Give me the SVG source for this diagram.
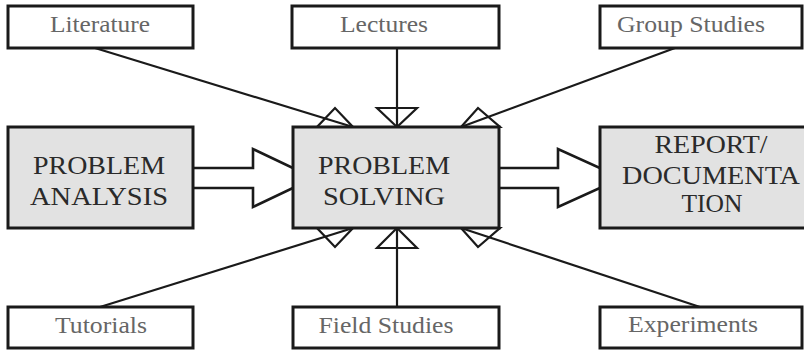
<svg xmlns="http://www.w3.org/2000/svg" width="804" height="354" viewBox="0 0 804 354">
<style>
.box{fill:#fff;stroke:#1a1a1a;stroke-width:3}
.main{fill:#e2e2e2;stroke:#1a1a1a;stroke-width:3}
.ln{stroke:#1a1a1a;stroke-width:2.2;fill:none}
.head{fill:none;stroke:#1a1a1a;stroke-width:2.2;stroke-linejoin:miter}
.blk{fill:#fff;stroke:#1a1a1a;stroke-width:2.6;stroke-linejoin:miter}
text{font-family:'Liberation Serif',serif}
.sm{font-size:23px;fill:#666;text-anchor:middle}
.bg{font-size:26px;fill:#2a2a2a;text-anchor:middle}
</style>
<rect width="804" height="354" fill="#fff"/>
<g id="connectors">
<line class="ln" x1="95" y1="48" x2="353" y2="127"/>
<polygon class="head" points="353,127 317,127 335,108"/>
<line class="ln" x1="397" y1="48" x2="397" y2="127"/>
<polygon class="head" points="397,127 377,108 417,108"/>
<line class="ln" x1="675" y1="48" x2="461" y2="127"/>
<polygon class="head" points="461,127 478,108 500,127"/>
<line class="ln" x1="100" y1="307" x2="353" y2="228"/>
<polygon class="head" points="353,228 317,228 335,247"/>
<line class="ln" x1="397" y1="307" x2="397" y2="228"/>
<polygon class="head" points="397,228 377,248 417,248"/>
<line class="ln" x1="700" y1="307" x2="461" y2="228"/>
<polygon class="head" points="461,228 478,247 500,228"/>
<polygon class="blk" points="190,168 253,168 253,149 314,178 253,207 253,188 190,188"/>
<polygon class="blk" points="496,168 558,168 558,149 622,178 558,207 558,188 496,188"/>
</g>
<g id="literature"><rect class="box" x="8" y="6" width="185" height="42"/><text class="sm" font-family="Liberation Serif, serif" x="100" y="32" textLength="100" lengthAdjust="spacingAndGlyphs">Literature</text></g>
<g id="lectures"><rect class="box" x="292" y="6" width="207" height="42"/><text class="sm" font-family="Liberation Serif, serif" x="384" y="32" textLength="88" lengthAdjust="spacingAndGlyphs">Lectures</text></g>
<g id="group-studies"><rect class="box" x="600" y="6" width="202" height="42"/><text class="sm" font-family="Liberation Serif, serif" x="691" y="32" textLength="148" lengthAdjust="spacingAndGlyphs">Group Studies</text></g>
<g id="problem-analysis"><rect class="main" x="8" y="127" width="185" height="101"/><text class="bg" font-family="Liberation Serif, serif" x="99" y="174" textLength="132" lengthAdjust="spacingAndGlyphs">PROBLEM</text><text class="bg" font-family="Liberation Serif, serif" x="99" y="205" textLength="138" lengthAdjust="spacingAndGlyphs">ANALYSIS</text></g>
<g id="problem-solving"><rect class="main" x="293" y="127" width="206" height="101"/><text class="bg" font-family="Liberation Serif, serif" x="384" y="174" textLength="132" lengthAdjust="spacingAndGlyphs">PROBLEM</text><text class="bg" font-family="Liberation Serif, serif" x="384" y="205" textLength="122" lengthAdjust="spacingAndGlyphs">SOLVING</text></g>
<g id="report"><rect class="main" x="600" y="127" width="215" height="101"/><text class="bg" font-family="Liberation Serif, serif" x="711" y="153" textLength="113" lengthAdjust="spacingAndGlyphs">REPORT/</text><text class="bg" font-family="Liberation Serif, serif" x="711" y="184" textLength="178" lengthAdjust="spacingAndGlyphs">DOCUMENTA</text><text class="bg" font-family="Liberation Serif, serif" x="712" y="212" textLength="61" lengthAdjust="spacingAndGlyphs">TION</text></g>
<g id="tutorials"><rect class="box" x="8" y="307" width="185" height="41"/><text class="sm" font-family="Liberation Serif, serif" x="101" y="333" textLength="92" lengthAdjust="spacingAndGlyphs">Tutorials</text></g>
<g id="field-studies"><rect class="box" x="293" y="307" width="206" height="41"/><text class="sm" font-family="Liberation Serif, serif" x="386" y="333" textLength="135" lengthAdjust="spacingAndGlyphs">Field Studies</text></g>
<g id="experiments"><rect class="box" x="600" y="307" width="202" height="41"/><text class="sm" font-family="Liberation Serif, serif" x="693" y="332" textLength="130" lengthAdjust="spacingAndGlyphs">Experiments</text></g>
</svg>
